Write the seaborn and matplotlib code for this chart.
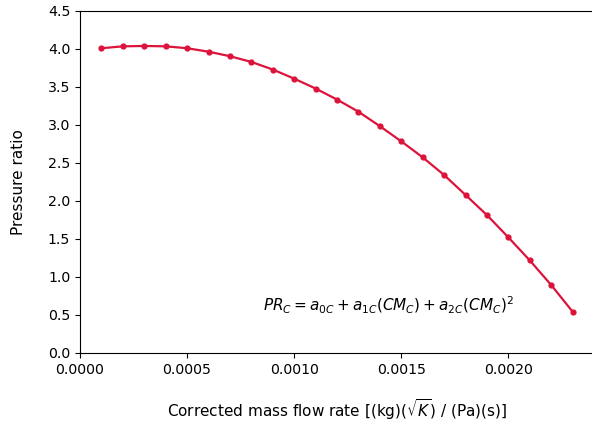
import matplotlib
matplotlib.use("Agg")
import matplotlib.pyplot as plt
import seaborn as sns
import pandas as pd

mass_flow = [0.0001, 0.0002, 0.0003, 0.0004, 0.0005, 0.0006, 0.0007, 0.0008,
             0.0009, 0.0010, 0.0011, 0.0012, 0.0013, 0.0014, 0.0015, 0.0016,
             0.0017, 0.0018, 0.0019, 0.0020, 0.0021, 0.0022, 0.0023]
pressure_ratio = [4.01, 4.035, 4.04, 4.035, 4.01, 3.965, 3.905, 3.83,
                  3.73, 3.61, 3.48, 3.335, 3.175, 2.985, 2.785, 2.575,
                  2.342, 2.08, 1.815, 1.522, 1.219, 0.895, 0.544]

df = pd.DataFrame({"x": mass_flow, "y": pressure_ratio})

fig = plt.figure(figsize=(5.92, 4.25), dpi=100)
ax = fig.add_axes([80/592, 72/425, 514/592, 342/425])
sns.lineplot(data=df, x="x", y="y", ax=ax, color="#DC143C", marker="o",
             markersize=4.5, markeredgewidth=0, linewidth=1.6)

ax.set_xlim(0, 0.0024)
ax.set_ylim(0, 4.5)
ax.set_xticks([0.0, 0.0005, 0.0010, 0.0015, 0.0020])
ax.set_xticklabels(["0.0000", "0.0005", "0.0010", "0.0015", "0.0020"])
ax.set_yticks([0.0, 0.5, 1.0, 1.5, 2.0, 2.5, 3.0, 3.5, 4.0, 4.5])
ax.tick_params(labelsize=10.2)
ax.set_xlabel(r"Corrected mass flow rate [(kg)($\sqrt{K}$) / (Pa)(s)]", fontsize=11, labelpad=15)
ax.set_ylabel("Pressure ratio", fontsize=11, labelpad=16)
ax.text(0.00144, 0.63, r"$PR_C = a_{0C} + a_{1C}(CM_C) + a_{2C}(CM_C)^2$",
        ha="center", va="center", fontsize=11)

fig.savefig("out.png", dpi=100)
